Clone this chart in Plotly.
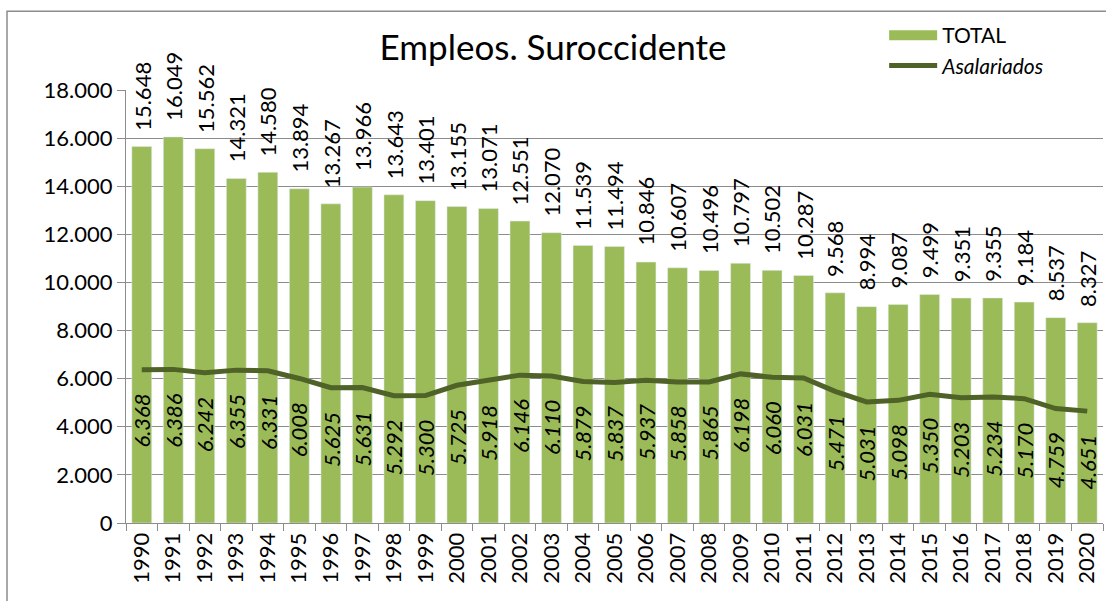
import plotly.graph_objects as go

# Datos
years = [str(y) for y in range(1990, 2021)]
total = [15648, 16049, 15562, 14321, 14580, 13894, 13267, 13966, 13643, 13401,
         13155, 13071, 12551, 12070, 11539, 11494, 10846, 10607, 10496, 10797,
         10502, 10287, 9568, 8994, 9087, 9499, 9351, 9355, 9184, 8537, 8327]
asalariados = [6368, 6386, 6242, 6355, 6331, 6008, 5625, 5631, 5292, 5300,
               5725, 5918, 6146, 6110, 5879, 5837, 5937, 5858, 5865, 6198,
               6060, 6031, 5471, 5031, 5098, 5350, 5203, 5234, 5170, 4759, 4651]
y_ticks = [0, 2000, 4000, 6000, 8000, 10000, 12000, 14000, 16000, 18000]


def fmt(v):
    return f"{v:,}".replace(",", ".")


FONT = "Lato, 'Open Sans', sans-serif"
BAR_COLOR = "#9BBB59"
LINE_COLOR = "#4F6228"
GRID = "#8C8C8C"

bar_trace = go.Bar(x=years, y=total, name="TOTAL", marker=dict(color=BAR_COLOR),
                   cliponaxis=False, showlegend=False)
# muestra de leyenda rectangular para TOTAL (como en Excel)
total_legend = go.Scatter(x=[None], y=[None], mode="lines", name="TOTAL",
                          line=dict(color=BAR_COLOR, width=15))
line_trace = go.Scatter(x=years, y=asalariados, mode="lines", name="<i>Asalariados</i>",
                        line=dict(color=LINE_COLOR, width=5), cliponaxis=False)

annotations = []
# en eje de categorías, la posición se da por índice de categoría
# etiquetas de TOTAL encima de las barras
for i, v in enumerate(total):
    annotations.append(dict(x=i, y=v, xref="x", yref="y", text=fmt(v), showarrow=False,
                            textangle=-90, yanchor="bottom", xanchor="center", yshift=14,
                            font=dict(family=FONT, size=22, color="black")))
# etiquetas de asalariados debajo de la línea
for i, v in enumerate(asalariados):
    annotations.append(dict(x=i, y=v, xref="x", yref="y", text=fmt(v), showarrow=False,
                            textangle=-90, yanchor="top", xanchor="center", yshift=-22,
                            font=dict(family=FONT, size=22, color="black", style="italic")))

layout = go.Layout(
    width=1106, height=601,
    margin=dict(l=126, r=3, t=90, b=78),
    paper_bgcolor="white", plot_bgcolor="white",
    font=dict(family=FONT, size=22, color="black"),
    separators=",.",
    title=dict(text="Empleos. Suroccidente", x=0.5, xanchor="center", y=0.92,
               yanchor="middle", font=dict(family=FONT, size=35, color="black")),
    bargap=0.37,
    xaxis=dict(type="category", tickangle=-90, showline=True, linecolor=GRID,
               linewidth=1, ticks="outside", tickson="boundaries", ticklen=7,
               tickcolor=GRID, showgrid=False, tickfont=dict(size=22),
               range=[-0.5, len(years) - 0.5]),
    yaxis=dict(range=[0, 18000], tickvals=y_ticks, tickformat=",d", showline=True,
               linecolor=GRID, linewidth=1, ticks="outside", ticklen=8,
               tickcolor=GRID, showgrid=True, gridcolor=GRID, gridwidth=1,
               zeroline=False, tickfont=dict(size=22)),
    legend=dict(x=0.776, y=1.173, xanchor="left", yanchor="top", bgcolor="rgba(0,0,0,0)",
                font=dict(size=21), tracegroupgap=0, itemwidth=48),
    annotations=annotations,
    shapes=[dict(type="rect", xref="paper", yref="paper", x0=-0.1218, x1=1.01,
                 y0=-0.3, y1=1.182, line=dict(color=GRID, width=1.5),
                 fillcolor="rgba(0,0,0,0)", layer="below")],
)

fig = go.Figure(data=[bar_trace, total_legend, line_trace], layout=layout)
# quitar el margen del body para que la figura ocupe la ventana exacta
fig.write_html("out.html", config={"displayModeBar": False},
               post_script="document.body.style.margin='0';")
